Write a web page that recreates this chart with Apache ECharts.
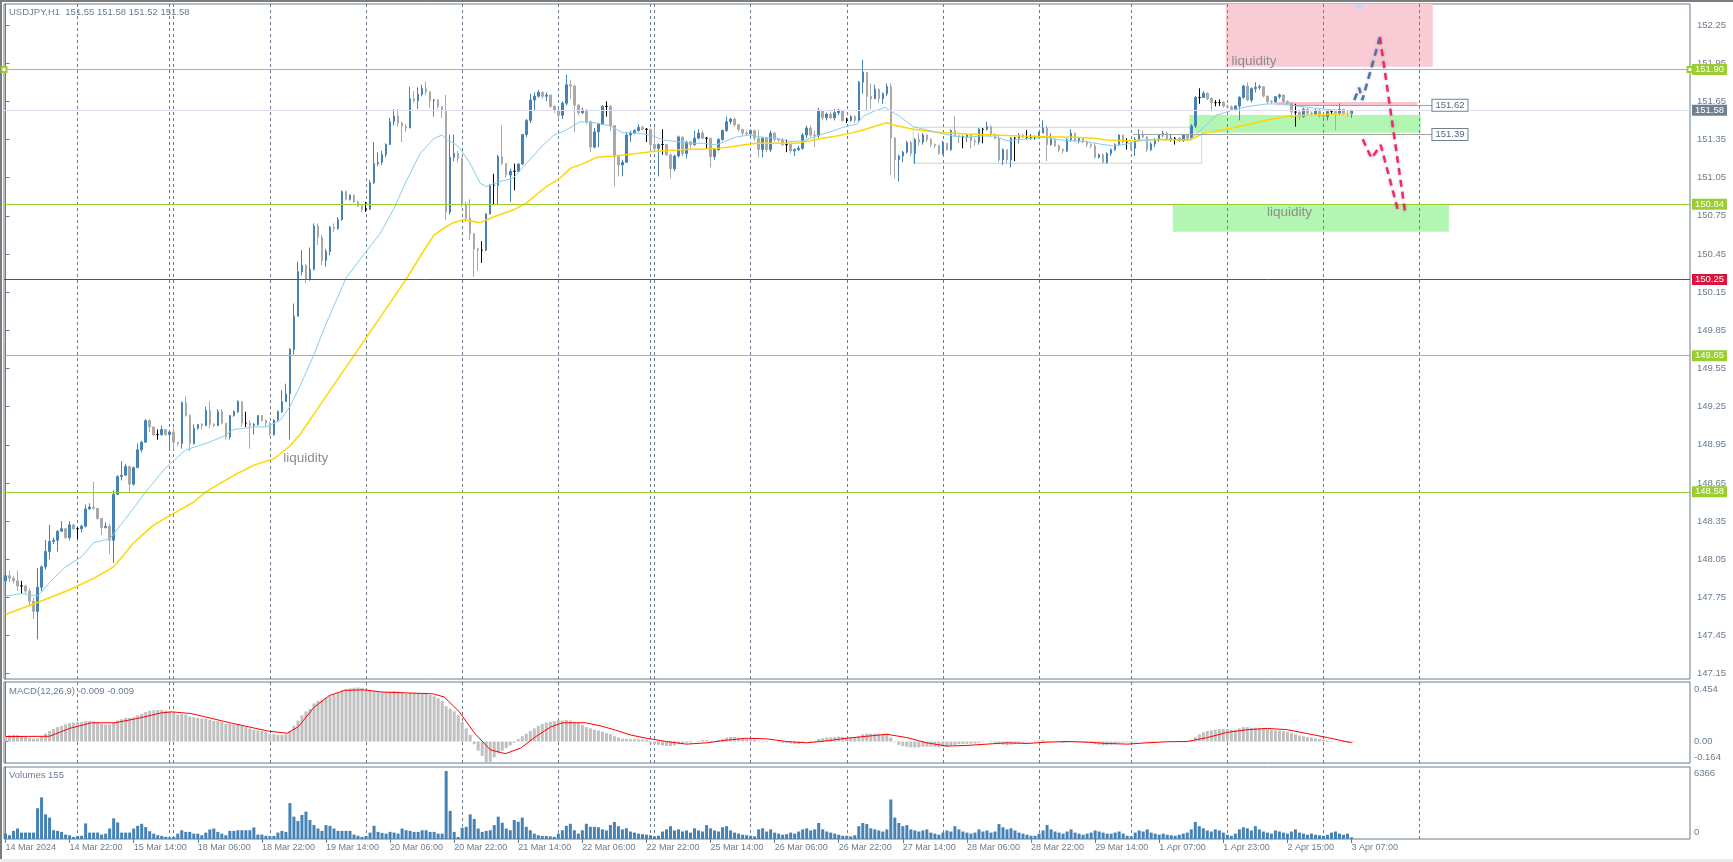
<!DOCTYPE html>
<html>
<head>
<meta charset="utf-8">
<script src="https://cdn.jsdelivr.net/npm/echarts@6/dist/echarts.min.js"></script>
<style>
html,body{margin:0;padding:0;background:#fff;}
#c{width:1733px;height:862px;}
</style>
</head>
<body>
<div id="c"></div>
<script>
// ---------------- DATA ----------------
const SYMBOL_TITLE = 'USDJPY,H1  151.55 151.58 151.52 151.58';
const MACD_TITLE = 'MACD(12,26,9) -0.009 -0.009';
const VOLUME_TITLE = 'Volumes 155';

const OPEN_FIRST = 147.88;
const CLOSE = [
147.92,147.90,147.88,147.84,147.84,147.80,147.72,147.64,147.83,147.99,
148.11,148.19,148.20,148.27,148.29,148.22,148.32,148.29,148.29,148.31,
148.445,148.46,148.45,148.37,148.30,148.31,148.20,148.56,148.70,148.71,
148.78,148.64,148.77,148.91,148.97,149.14,149.09,149.03,149.03,149.07,
149.03,149.05,148.97,148.96,149.28,149.18,148.96,149.08,149.11,149.10,
149.22,149.11,149.10,149.21,149.12,149.01,149.18,149.21,149.29,149.12,
149.12,149.10,149.11,149.18,149.14,149.12,149.03,149.145,149.21,149.29,
149.35,149.70,149.96,150.31,150.36,150.25,150.33,150.67,150.58,150.40,
150.47,150.66,150.65,150.72,150.94,150.88,150.91,150.86,150.83,150.80,
150.80,151.01,151.16,151.17,151.23,151.31,151.49,151.535,151.48,151.455,
151.44,151.67,151.655,151.705,151.75,151.725,151.655,151.66,151.61,151.58,
150.78,151.21,151.24,151.20,150.84,150.73,150.61,150.49,150.48,150.48,
150.765,150.99,150.99,151.215,151.16,151.07,151.10,151.10,151.157,151.39,
151.50,151.66,151.69,151.72,151.69,151.70,151.61,151.58,151.54,151.635,
151.78,151.77,151.62,151.56,151.58,151.49,151.29,151.41,151.47,151.61,
151.61,151.46,151.215,151.15,151.17,151.385,151.40,151.42,151.445,151.43,
151.43,151.31,151.28,151.31,151.31,151.23,151.12,151.22,151.37,151.24,
151.33,151.31,151.36,151.40,151.36,151.36,151.215,151.27,151.35,151.42,
151.49,151.51,151.465,151.43,151.40,151.395,151.42,151.36,151.27,151.36,
151.27,151.40,151.35,151.345,151.31,151.31,151.26,151.27,151.28,151.385,
151.44,151.385,151.38,151.58,151.52,151.55,151.52,151.56,151.58,151.50,
151.50,151.53,151.50,151.80,151.88,151.69,151.67,151.745,151.67,151.71,
151.765,151.36,151.19,151.22,151.25,151.325,151.24,151.35,151.33,151.385,
151.35,151.31,151.30,151.24,151.32,151.27,151.42,151.38,151.37,151.37,
151.39,151.34,151.33,151.43,151.43,151.45,151.39,151.36,151.19,151.27,
151.19,151.36,151.36,151.385,151.37,151.37,151.37,151.37,151.40,151.44,
151.31,151.35,151.30,151.27,151.26,151.35,151.40,151.34,151.36,151.33,
151.31,151.30,151.21,151.23,151.17,151.24,151.27,151.31,151.385,151.33,
151.33,151.28,151.35,151.39,151.37,151.27,151.315,151.35,151.385,151.40,
151.35,151.36,151.36,151.34,151.385,151.36,151.456,151.68,151.68,151.713,
151.673,151.64,151.64,151.64,151.613,151.605,151.587,151.613,151.681,151.77,
151.66,151.75,151.76,151.765,151.692,151.647,151.645,151.686,151.70,151.647,
151.634,151.565,151.565,151.529,151.587,151.556,151.55,151.58,151.535,151.53,
151.569,151.569,151.55,151.587,151.555,151.55,151.58
];
const HIGH = [
147.95,147.96,147.92,147.96,147.88,147.85,147.82,147.75,147.98,148.00,
148.20,148.32,148.22,148.28,148.35,148.29,148.35,148.33,148.30,148.32,
148.48,148.49,148.66,148.45,148.37,148.34,148.33,148.59,148.71,148.82,
148.80,148.78,148.78,148.96,148.98,149.15,149.15,149.09,149.07,149.10,
149.07,149.06,149.08,148.97,149.29,149.33,149.19,149.11,149.11,149.12,
149.25,149.29,149.12,149.23,149.23,149.12,149.18,149.22,149.30,149.29,
149.21,149.14,149.12,149.18,149.18,149.15,149.13,149.15,149.22,149.38,
149.43,149.71,150.06,150.39,150.48,150.37,150.50,150.69,150.69,150.60,
150.49,150.67,150.69,150.74,150.95,150.95,150.92,150.92,150.87,150.84,
150.86,151.03,151.33,151.25,151.26,151.32,151.52,151.59,151.59,151.49,
151.47,151.765,151.73,151.76,151.78,151.805,151.73,151.67,151.67,151.61,
151.70,151.39,151.39,151.26,151.21,150.86,150.88,150.61,150.50,150.55,
150.77,151.00,151.08,151.23,151.46,151.16,151.12,151.16,151.16,151.39,
151.51,151.71,151.72,151.74,151.73,151.72,151.70,151.62,151.59,151.65,
151.86,151.82,151.78,151.63,151.60,151.59,151.50,151.44,151.48,151.62,
151.65,151.62,151.46,151.22,151.19,151.41,151.42,151.43,151.47,151.46,
151.44,151.43,151.45,151.32,151.43,151.30,151.24,151.23,151.38,151.37,
151.34,151.34,151.42,151.43,151.42,151.37,151.36,151.28,151.36,151.43,
151.53,151.52,151.52,151.47,151.43,151.42,151.43,151.42,151.43,151.37,
151.37,151.42,151.41,151.36,151.36,151.35,151.32,151.28,151.30,151.40,
151.46,151.46,151.42,151.60,151.58,151.56,151.57,151.59,151.59,151.58,
151.52,151.54,151.54,151.81,151.975,151.88,151.79,151.78,151.75,151.72,
151.79,151.79,151.37,151.23,151.26,151.34,151.34,151.36,151.40,151.40,
151.39,151.36,151.32,151.31,151.34,151.32,151.43,151.535,151.38,151.38,
151.40,151.39,151.36,151.44,151.44,151.49,151.46,151.40,151.39,151.28,
151.27,151.37,151.37,151.40,151.39,151.425,151.39,151.38,151.41,151.50,
151.46,151.40,151.36,151.31,151.28,151.36,151.43,151.40,151.37,151.36,
151.34,151.32,151.32,151.24,151.24,151.25,151.28,151.32,151.39,151.38,
151.36,151.33,151.37,151.43,151.42,151.38,151.33,151.36,151.39,151.42,
151.41,151.39,151.37,151.37,151.39,151.39,151.47,151.69,151.752,151.73,
151.72,151.68,151.66,151.665,151.65,151.625,151.62,151.62,151.69,151.78,
151.80,151.76,151.80,151.78,151.77,151.69,151.66,151.69,151.71,151.70,
151.66,151.64,151.63,151.57,151.60,151.60,151.57,151.59,151.59,151.545,
151.575,151.58,151.57,151.634,151.59,151.575,151.58
];
const LOW = [
147.85,147.87,147.86,147.80,147.78,147.78,147.68,147.58,147.42,147.80,
147.97,148.05,148.17,148.11,148.27,148.21,148.20,148.28,148.21,148.26,
148.30,148.44,148.44,148.36,148.24,148.29,148.09,148.02,148.56,148.67,
148.72,148.58,148.63,148.77,148.89,148.97,149.05,149.02,148.99,149.02,
149.02,148.91,148.91,148.94,148.92,149.17,148.90,148.95,149.07,149.07,
149.10,149.08,149.09,149.10,149.11,148.99,148.99,149.17,149.20,149.09,
149.09,148.92,149.03,149.10,149.13,149.09,149.02,149.02,149.13,149.20,
149.29,148.99,149.66,149.96,150.28,150.22,150.24,150.32,150.52,150.36,
150.35,150.44,150.62,150.64,150.71,150.87,150.87,150.85,150.82,150.78,
150.78,150.80,151.00,151.14,151.15,151.21,151.31,151.46,151.45,151.33,
151.41,151.44,151.64,151.59,151.69,151.70,151.60,151.53,151.59,151.52,
150.72,150.76,151.18,151.17,150.82,150.70,150.56,150.27,150.32,150.38,
150.47,150.76,150.84,150.84,151.15,151.05,150.86,150.95,151.09,151.15,
151.37,151.48,151.58,151.68,151.67,151.65,151.60,151.56,151.51,151.51,
151.62,151.67,151.41,151.54,151.55,151.47,151.25,151.28,151.29,151.47,
151.53,151.42,150.98,151.06,151.06,151.17,151.33,151.39,151.41,151.42,
151.33,151.27,151.27,151.06,151.23,151.22,151.045,151.10,151.21,151.22,
151.20,151.28,151.30,151.35,151.35,151.28,151.13,151.19,151.26,151.34,
151.41,151.47,151.45,151.41,151.38,151.38,151.37,151.34,151.21,151.21,
151.25,151.25,151.33,151.33,151.30,151.25,151.24,151.22,151.26,151.27,
151.36,151.37,151.29,151.36,151.50,151.50,151.51,151.50,151.54,151.49,
151.48,151.49,151.48,151.49,151.71,151.58,151.59,151.67,151.64,151.63,
151.69,151.07,151.045,151.02,151.17,151.24,151.22,151.16,151.30,151.31,
151.33,151.29,151.28,151.23,151.23,151.26,151.26,151.37,151.32,151.28,
151.33,151.28,151.30,151.31,151.32,151.42,151.37,151.35,151.17,151.15,
151.16,151.13,151.18,151.32,151.36,151.35,151.35,151.35,151.36,151.40,
151.18,151.30,151.29,151.25,151.24,151.25,151.33,151.33,151.32,151.32,
151.29,151.28,151.20,151.20,151.16,151.16,151.22,151.26,151.30,151.32,
151.27,151.27,151.22,151.34,151.36,151.25,151.26,151.29,151.33,151.37,
151.34,151.33,151.31,151.33,151.33,151.35,151.35,151.44,151.63,151.68,
151.66,151.57,151.61,151.613,151.60,151.59,151.58,151.58,151.50,151.67,
151.65,151.64,151.72,151.74,151.68,151.63,151.63,151.64,151.67,151.64,
151.62,151.52,151.451,151.50,151.52,151.54,151.54,151.54,151.52,151.52,
151.50,151.55,151.425,151.54,151.54,151.53,151.52
];
const VOLUME = [
507,350,760,980,600,600,600,600,2880,3900,
2310,2000,820,760,665,410,350,190,280,300,
1457,600,600,600,410,500,980,1930,1550,600,
600,600,980,1235,1425,1110,730,500,350,285,
200,150,200,500,820,665,665,500,500,350,
600,890,980,665,500,350,760,760,820,820,
820,820,1080,410,410,300,285,285,600,760,
665,3360,2090,1680,2250,2565,1775,1300,980,760,
1300,1235,980,760,760,760,760,410,300,200,
285,600,1235,665,570,500,665,600,500,980,
820,760,665,665,820,820,665,665,500,500,
6366,2630,665,190,1050,1140,2310,1870,980,665,
760,820,1300,2090,1520,980,820,1775,1615,2000,
1140,820,500,350,285,285,250,200,500,820,
1235,1425,820,500,820,1425,1140,1140,1100,900,
800,1300,1600,1200,900,1000,700,600,500,450,
400,350,250,300,700,900,1200,800,900,700,
800,600,1000,800,700,1300,1000,800,700,1100,
1200,800,600,500,400,350,300,250,900,1000,
700,900,600,500,400,450,600,500,700,900,
1000,800,900,1500,900,700,600,500,400,300,
300,250,350,1200,1500,1400,1000,900,800,700,
900,3700,2000,1500,1200,1300,900,800,700,800,
900,600,500,400,600,800,700,1200,900,700,
600,500,600,900,700,800,600,700,1400,1100,
900,1000,800,600,500,400,300,300,500,800,
1300,900,700,600,500,700,900,600,500,400,
500,600,800,700,600,500,500,600,700,500,
300,250,600,800,700,900,600,500,400,500,
400,350,300,400,500,600,900,1600,1200,1000,
800,700,900,800,600,400,300,500,900,1100,
1000,800,1200,900,700,600,500,800,700,600,
500,700,900,600,500,400,500,400,350,300,
400,600,700,500,400,500,155
];
const MACD_MAIN = [
0.045,0.048,0.05,0.048,0.04,0.033,0.027,0.022,0.024,0.04,
0.06,0.08,0.095,0.11,0.12,0.13,0.14,0.145,0.148,0.15,
0.155,0.155,0.152,0.145,0.135,0.13,0.13,0.145,0.16,0.17,
0.18,0.18,0.185,0.2,0.21,0.225,0.235,0.238,0.24,0.24,
0.235,0.23,0.22,0.205,0.21,0.205,0.19,0.185,0.18,0.175,
0.175,0.165,0.158,0.155,0.148,0.135,0.135,0.13,0.13,0.12,
0.11,0.1,0.09,0.085,0.08,0.07,0.06,0.055,0.05,0.05,
0.055,0.08,0.12,0.16,0.2,0.23,0.25,0.29,0.31,0.32,
0.335,0.35,0.36,0.37,0.39,0.4,0.405,0.41,0.412,0.41,
0.4,0.39,0.385,0.38,0.375,0.375,0.38,0.385,0.38,0.375,
0.365,0.37,0.37,0.37,0.37,0.365,0.355,0.345,0.33,0.31,
0.27,0.25,0.23,0.2,0.15,0.1,0.05,-0.02,-0.07,-0.11,
-0.16,-0.155,-0.12,-0.09,-0.07,-0.05,-0.03,-0.01,0.02,0.04,
0.06,0.08,0.1,0.12,0.135,0.145,0.15,0.155,0.16,0.16,
0.165,0.16,0.15,0.14,0.125,0.11,0.1,0.09,0.085,0.075,
0.065,0.055,0.04,0.03,0.022,0.02,0.018,0.017,0.016,0.015,
0.013,-0.01,-0.02,-0.025,-0.03,-0.035,-0.035,-0.03,-0.02,-0.015,
-0.01,-0.008,0,0.005,0.01,0.01,0.005,0.005,0.01,0.02,
0.03,0.035,0.035,0.03,0.025,0.02,0.018,0.015,0.005,-0.005,
-0.005,0,0,-0.005,-0.01,-0.012,-0.015,-0.02,-0.02,-0.01,
0,0.005,0.005,0.02,0.025,0.03,0.032,0.035,0.038,0.035,
0.032,0.03,0.03,0.04,0.055,0.06,0.06,0.06,0.06,0.058,
0.06,0.03,-0.005,-0.025,-0.035,-0.04,-0.045,-0.045,-0.045,-0.04,
-0.04,-0.04,-0.04,-0.045,-0.04,-0.04,-0.03,-0.025,-0.02,-0.02,
-0.018,-0.016,-0.016,-0.01,-0.005,0,-0.005,-0.01,-0.02,-0.025,
-0.03,-0.025,-0.02,-0.015,-0.01,-0.005,0,0.005,0.008,0.012,
0.005,0.003,0,-0.005,-0.01,-0.008,-0.005,-0.005,-0.005,-0.007,
-0.01,-0.012,-0.02,-0.025,-0.03,-0.028,-0.025,-0.02,-0.01,-0.008,
-0.006,-0.008,-0.006,0,0.002,-0.004,-0.005,-0.002,0,0.002,
0.002,0.002,0.002,0.002,0.004,0.005,0.012,0.035,0.055,0.07,
0.08,0.085,0.09,0.095,0.095,0.095,0.09,0.09,0.1,0.11,
0.11,0.105,0.105,0.105,0.1,0.095,0.09,0.085,0.085,0.08,
0.075,0.065,0.055,0.045,0.04,0.035,0.03,0.025,0.018,0.012,
0.008,0.004,0,-0.004,-0.007,-0.008,-0.009
];
// [bar, value] readings of the signal line
const MACD_SIGNAL = [[0,0.038],[11,0.04],[16,0.1],[21.5,0.143],[27.3,0.143],[33,0.176],[38.8,0.218],[41.6,0.226],[46.4,0.213],[56,0.143],[65.5,0.08],[70.3,0.063],[73.1,0.113],[77,0.26],[80.8,0.35],[84.6,0.39],[89.4,0.394],[94.2,0.377],[106.6,0.364],[109.5,0.34],[113.3,0.226],[117.1,0.063],[121,-0.063],[124.8,-0.093],[128.6,-0.05],[132.4,0.038],[136.2,0.113],[139.1,0.143],[144.8,0.143],[148.4,0.12],[152,0.09],[156,0.05],[160,0.025],[165,0.0],[170,-0.02],[175,-0.01],[180,0.01],[185,0.025],[190,0.02],[195,0.0],[200,-0.01],[205,0.005],[210,0.025],[215,0.04],[220,0.055],[225,0.03],[230,-0.01],[235,-0.035],[240,-0.03],[245,-0.02],[250,-0.01],[255,-0.015],[260,-0.005],[265,0.0],[270,-0.005],[275,-0.015],[280,-0.02],[285,-0.01],[290,-0.002],[295,0.0],[300,0.03],[305,0.07],[310,0.09],[315,0.1],[320,0.09],[325,0.06],[330,0.03],[336,-0.009]];
// moving averages [bar, value]
const MA_FAST = [[0,147.76],[4,147.78],[8,147.76],[12,147.90],[15,147.99],[19,148.07],[22,148.18],[26,148.21],[30,148.37],[35,148.58],[40,148.77],[45,148.91],[50,148.96],[54,149.01],[57,149.07],[62,149.09],[65,149.09],[68.5,149.14],[71,149.25],[73.5,149.41],[77,149.66],[80,149.90],[85,150.26],[90,150.47],[93.5,150.61],[97,150.81],[100,151.02],[103.5,151.24],[107,151.36],[109,151.385],[110,151.35],[112,151.32],[113.5,151.28],[116,151.16],[118.5,151.005],[120,150.98],[123.5,151.02],[126.7,151.045],[130,151.16],[133.4,151.28],[136.7,151.38],[140,151.425],[143.4,151.49],[147.6,151.48],[151,151.456],[154,151.404],[157.6,151.40],[161,151.385],[164.2,151.346],[167.5,151.333],[171,151.32],[174.2,151.32],[177.5,151.307],[179.2,151.33],[182.5,151.37],[185.8,151.385],[189.2,151.367],[192.5,151.36],[195.8,151.333],[199.2,151.34],[202.5,151.377],[205.8,151.41],[209.2,151.446],[212.5,151.47],[214,151.53],[216.6,151.569],[219.6,151.603],[220.6,151.58],[223.3,151.53],[226.6,151.45],[230,151.425],[233.3,151.40],[236.6,151.377],[240,151.367],[243.3,151.377],[246.6,151.377],[250,151.34],[253.2,151.35],[256.6,151.36],[260,151.367],[263.2,151.346],[266.6,151.34],[270,151.333],[273.2,151.314],[276.6,151.30],[280,151.314],[283.2,151.34],[288.2,151.35],[295.7,151.35],[298.2,151.42],[302.4,151.542],[306.5,151.582],[310.7,151.613],[314.9,151.629],[319,151.629],[322.4,151.613],[327.3,151.595],[331.5,151.582],[336,151.576]];
const MA_SLOW = [[0,147.615],[8,147.71],[16,147.81],[22,147.90],[27,147.99],[32,148.18],[37,148.32],[42,148.41],[47,148.50],[50,148.58],[57,148.71],[62,148.79],[67,148.84],[71,148.94],[73.5,149.03],[80,149.33],[85,149.56],[90,149.79],[95,150.02],[100,150.25],[103.5,150.43],[107,150.60],[109.3,150.65],[111.8,150.696],[114.3,150.72],[118.4,150.696],[121.8,150.74],[126.7,150.795],[130,150.85],[135,150.98],[138.4,151.045],[141,151.123],[144.2,151.16],[147.6,151.21],[151.7,151.22],[154.2,151.228],[157.6,151.24],[161,151.254],[164.2,151.262],[167.5,151.267],[171,151.273],[174.2,151.273],[177.5,151.28],[180.9,151.29],[184,151.307],[187.5,151.32],[194.2,151.32],[197.5,151.32],[200.8,151.34],[204,151.36],[207.5,151.377],[211,151.40],[214.1,151.425],[216.6,151.45],[220,151.482],[221.6,151.464],[226.6,151.43],[233.3,151.404],[240,151.393],[246.6,151.385],[253.2,151.377],[260,151.372],[266.6,151.367],[271.6,151.36],[275,151.346],[280,151.34],[285,151.346],[288.2,151.35],[295.7,151.346],[299,151.398],[305.7,151.437],[310.7,151.472],[314.9,151.503],[320.7,151.535],[327,151.542],[336,151.555]];

// axis labels
const X_LABELS = ['14 Mar 2024','14 Mar 22:00','15 Mar 14:00','18 Mar 06:00','18 Mar 22:00','19 Mar 14:00','20 Mar 06:00','20 Mar 22:00','21 Mar 14:00','22 Mar 06:00','22 Mar 22:00','25 Mar 14:00','26 Mar 06:00','26 Mar 22:00','27 Mar 14:00','28 Mar 06:00','28 Mar 22:00','29 Mar 14:00','1 Apr 07:00','1 Apr 23:00','2 Apr 15:00','3 Apr 07:00'];
const X_LABEL_STEP = 16;
const PRICE_TICKS = [147.15,147.45,147.75,148.05,148.35,148.65,148.95,149.25,149.55,149.85,150.15,150.45,150.75,151.05,151.35,151.65,151.95,152.25];
const MACD_TICKS = [0.454, 0, -0.164];
const MACD_TICK_TEXT = ['0.454','0.00','-0.164'];
const VOL_TICKS = [6366, 0];
const SEPARATOR_BARS = [18,41,42,66,90,114,138,161,162,186,210,234,258,281,305,329,353];

// annotation objects (bar index, price)
const GREEN_LEVELS = [151.90, 150.84, 149.65, 148.58];
const RED_LEVEL = 150.25;
const BID_PRICE = 151.58;
const PRICE_LABEL_LINES = [[320.7, 356.2, 151.62], [281.5, 356.2, 151.39]];
const PINK_ZONE = [304.6, 356.3, 151.922, 152.415];
const GREEN_ZONES = [[291.4, 360.3, 150.625, 150.84], [295.5, 353.3, 151.403, 151.542]];
const PINK_STRIP = [317.3, 352.4, 151.62, 151.645];
const RANGE_BOX = [226.6, 298.6, 151.163, 151.446];
const LIQ_TEXTS = [[305.9, 151.962, 'liquidity'], [314.8, 150.775, 'liquidity'], [69.2, 148.84, 'liquidity']];
const BLUE_PATH = [[336.7, 151.66], [337.9, 151.757], [338.7, 151.66], [343.1, 152.153]];
const RED_PATH_1 = [[343.1, 152.153], [349.4, 150.775]];
const RED_PATH_2 = [[338.8, 151.351], [341.0, 151.202], [343.3, 151.306], [347.7, 150.782]];
const SHIFT_MARK = [337.9, 152.39];

// ---------------- CHART ----------------
const FONT = "'Liberation Sans', Arial, sans-serif";
const AX = '#6b7b8c';
const TXT = '#6a7c8e';
const GREEN = '#9acd32';
const XMIN = -0.374, XMAX = 420.496;
const PMIN = 147.1085, PMAX = 152.415;

const candleData = CLOSE.map((c, i) => {
  const o = i === 0 ? OPEN_FIRST : CLOSE[i - 1];
  return [i, o, c, Math.min(LOW[i], o, c), Math.max(HIGH[i], o, c)];
});
const volData = VOLUME.map((v, i) => [i, v]);
const macdData = MACD_MAIN.map((v, i) => [i, v]);
const xLabelBars = X_LABELS.map((_, k) => k * X_LABEL_STEP);

function sepLines() {
  return {
    silent: true, symbol: ['none', 'none'], z: 2,
    label: {show: false},
    lineStyle: {color: '#6c7a89', type: [3, 3], width: 1},
    data: SEPARATOR_BARS.map(b => ({xAxis: b}))
  };
}
function host(gi, y, extra) {
  return Object.assign({
    type: 'line', xAxisIndex: gi, yAxisIndex: gi, data: [[0, y]],
    symbol: 'none', lineStyle: {opacity: 0}, silent: true
  }, extra);
}
function tagLabel(bg, txt) {
  return {
    show: true, position: 'end', distance: 2,
    backgroundColor: bg, color: '#fff', padding: [1, 3, 0, 3],
    fontFamily: FONT, fontSize: 9.5, lineHeight: 10,
    formatter: () => txt
  };
}
const hiddenX = gi => ({
  type: 'value', gridIndex: gi, min: XMIN, max: XMAX, show: false
});

const option = {
  animation: false,
  backgroundColor: '#ffffff',
  textStyle: {fontFamily: FONT},
  grid: [
    {left: 4, top: 4, width: 1686, height: 675, show: true, borderColor: AX, borderWidth: 1, backgroundColor: '#fff'},
    {left: 4, top: 682, width: 1686, height: 81, show: true, borderColor: AX, borderWidth: 1, backgroundColor: '#fff'},
    {left: 4, top: 767, width: 1686, height: 72, show: true, borderColor: AX, borderWidth: 1, backgroundColor: '#fff'}
  ],
  xAxis: [
    hiddenX(0), hiddenX(1),
    {
      type: 'value', gridIndex: 2, min: XMIN, max: XMAX,
      axisLine: {show: false}, splitLine: {show: false},
      axisTick: {show: true, customValues: xLabelBars, length: 4, lineStyle: {color: AX}},
      axisLabel: {
        customValues: xLabelBars, align: 'left', margin: 4,
        color: TXT, fontSize: 9, fontFamily: FONT,
        formatter: v => X_LABELS[Math.round(v / X_LABEL_STEP)]
      }
    }
  ],
  yAxis: [
    {
      type: 'value', gridIndex: 0, position: 'right', min: PMIN, max: PMAX,
      axisLine: {show: true, lineStyle: {color: AX}}, splitLine: {show: false},
      axisTick: {show: true, customValues: PRICE_TICKS, length: 4, lineStyle: {color: AX}},
      axisLabel: {customValues: PRICE_TICKS, margin: 7, color: TXT, fontSize: 9.5, fontFamily: FONT,
        formatter: v => v.toFixed(2)}
    },
    {
      type: 'value', gridIndex: 1, position: 'right', min: -0.164, max: 0.454,
      axisLine: {show: true, lineStyle: {color: AX}}, splitLine: {show: false},
      axisTick: {show: true, customValues: [0], length: 3, lineStyle: {color: AX}},
      axisLabel: {
        customValues: MACD_TICKS, margin: 4, color: TXT, fontSize: 9.5, fontFamily: FONT,
        formatter: v => {
          const k = MACD_TICKS.indexOf(v);
          return k === 0 ? '{t|' + MACD_TICK_TEXT[k] + '}' : k === 2 ? '{b|' + MACD_TICK_TEXT[k] + '}' : MACD_TICK_TEXT[k];
        },
        rich: {t: {padding: [14, 0, 0, 0], color: TXT, fontSize: 9.5}, b: {padding: [0, 0, 11, 0], color: TXT, fontSize: 9.5}}
      }
    },
    {
      type: 'value', gridIndex: 2, position: 'right', min: 0, max: 6740,
      axisLine: {show: true, lineStyle: {color: AX}}, splitLine: {show: false},
      axisTick: {show: false},
      axisLabel: {
        customValues: VOL_TICKS, margin: 4, color: TXT, fontSize: 9.5, fontFamily: FONT,
        formatter: v => v === 0 ? '{b|0}' : '{t|' + v + '}',
        rich: {t: {padding: [4, 0, 0, 0], color: TXT, fontSize: 9.5}, b: {padding: [0, 0, 13, 0], color: TXT, fontSize: 9.5}}
      }
    }
  ],
  series: [
    // separators & zones in price pane
    host(0, CLOSE[0], {
      z: 1,
      markLine: sepLines(),
      markArea: {
        silent: true, z: 1,
        data: [
          [{coord: [PINK_ZONE[0], PINK_ZONE[3]], itemStyle: {color: '#f9cbd4'}}, {coord: [PINK_ZONE[1], PINK_ZONE[2]]}],
          ...GREEN_ZONES.map(g => [{coord: [g[0], g[3]], itemStyle: {color: '#b3f6b3'}}, {coord: [g[1], g[2]]}]),
          [{coord: [PINK_STRIP[0], PINK_STRIP[3]], itemStyle: {color: '#f7c4cf'}}, {coord: [PINK_STRIP[1], PINK_STRIP[2]]}],
          [{coord: [RANGE_BOX[0], RANGE_BOX[3]], itemStyle: {color: 'rgba(0,0,0,0)', borderColor: '#b3ecb3', borderWidth: 1}}, {coord: [RANGE_BOX[1], RANGE_BOX[2]]}]
        ]
      }
    }),
    {
      type: 'candlestick', xAxisIndex: 0, yAxisIndex: 0, z: 3,
      data: candleData, encode: {x: 0, y: [1, 2, 3, 4]},
      barWidth: 2,
      itemStyle: {color: '#4682b4', color0: '#a9a9a9', borderColor: '#4682b4', borderColor0: '#a9a9a9', borderColorDoji: '#000000', borderWidth: 1}
    },
    {type: 'line', xAxisIndex: 0, yAxisIndex: 0, z: 4, data: MA_SLOW, symbol: 'none', silent: true,
      lineStyle: {color: '#ffd700', width: 1.5}},
    {type: 'line', xAxisIndex: 0, yAxisIndex: 0, z: 4, data: MA_FAST, symbol: 'none', silent: true,
      lineStyle: {color: '#87ceeb', width: 1}},
    // levels
    host(0, CLOSE[0], {
      z: 5,
      markLine: {
        silent: true, symbol: ['none', 'none'], z: 5,
        data: [
          ...GREEN_LEVELS.slice(1).map(p => ({yAxis: p, lineStyle: {color: GREEN, width: 1, type: 'solid'}, label: tagLabel(GREEN, p.toFixed(2))})),
          {yAxis: RED_LEVEL, lineStyle: {color: '#dc143c', width: 1, type: 'solid'}, label: tagLabel('#dc143c', RED_LEVEL.toFixed(2))},
          {yAxis: BID_PRICE, lineStyle: {color: '#dedef2', width: 1, type: 'solid'}, label: tagLabel('#708090', BID_PRICE.toFixed(2))},
          ...PRICE_LABEL_LINES.map(l => [
            {coord: [l[0], l[2]], lineStyle: {color: '#a3a3a3', width: 1, type: 'solid'},
              label: {show: true, position: 'end', distance: 0, backgroundColor: '#fff', borderColor: '#708090', borderWidth: 1,
                color: '#55677a', padding: [1, 3, 0, 3], fontSize: 9.5, lineHeight: 10, fontFamily: FONT, formatter: () => l[2].toFixed(2)}},
            {coord: [l[1], l[2]]}
          ])
        ]
      }
    }),
    host(0, CLOSE[0], {
      z: 5,
      markLine: {
        silent: true, symbol: ['emptyRect', 'emptyRect'], symbolSize: 5, z: 5,
        data: [{yAxis: GREEN_LEVELS[0], lineStyle: {color: GREEN, width: 1, type: 'solid'}, label: tagLabel(GREEN, GREEN_LEVELS[0].toFixed(2))}]
      },
      markPoint: {
        silent: true, z: 5,
        data: [{coord: SHIFT_MARK, symbol: 'triangle', symbolRotate: 180, symbolSize: [11, 6], itemStyle: {color: '#cdd3f4'}, label: {show: false}}]
      }
    }),
    // texts
    host(0, CLOSE[0], {
      z: 6,
      markPoint: {
        silent: true, z: 6,
        data: LIQ_TEXTS.map(t => ({
          coord: [t[0], t[1]], symbol: 'circle', symbolSize: 1,
          itemStyle: {color: 'rgba(0,0,0,0)'},
          label: {show: true, position: 'right', distance: 0, color: '#8c8c8c', fontSize: 13.5, fontFamily: FONT, formatter: () => t[2]}
        }))
      }
    }),
    // drawn arrows
    {type: 'line', xAxisIndex: 0, yAxisIndex: 0, z: 7, data: BLUE_PATH, symbol: 'none', silent: true,
      lineStyle: {color: '#4a74ae', width: 2.5, type: [7, 5], shadowColor: 'rgba(0,0,0,0.25)', shadowBlur: 3}},
    {type: 'line', xAxisIndex: 0, yAxisIndex: 0, z: 7, data: RED_PATH_1, symbol: 'none', silent: true,
      lineStyle: {color: '#f4276a', width: 2.5, type: [7, 5], shadowColor: 'rgba(0,0,0,0.25)', shadowBlur: 3}},
    {type: 'line', xAxisIndex: 0, yAxisIndex: 0, z: 7, data: RED_PATH_2, symbol: 'none', silent: true,
      lineStyle: {color: '#f4276a', width: 2.5, type: [7, 5], shadowColor: 'rgba(0,0,0,0.25)', shadowBlur: 3}},
    // MACD
    host(1, 0, {z: 1, markLine: sepLines()}),
    {type: 'bar', xAxisIndex: 1, yAxisIndex: 1, z: 3, data: macdData, barWidth: 3, silent: true,
      itemStyle: {color: '#c0c0c0'}},
    {type: 'line', xAxisIndex: 1, yAxisIndex: 1, z: 4, data: MACD_SIGNAL, symbol: 'none', silent: true,
      lineStyle: {color: '#ff0000', width: 1}},
    // Volume
    host(2, 0, {z: 1, markLine: sepLines()}),
    {type: 'bar', xAxisIndex: 2, yAxisIndex: 2, z: 3, data: volData, barWidth: 3, silent: true,
      itemStyle: {color: '#4682b4'}}
  ],
  graphic: [
    {type: 'rect', left: 0, top: 0, shape: {width: 1733, height: 2}, style: {fill: '#7d7d7d'}, silent: true},
    {type: 'rect', left: 0, top: 0, shape: {width: 2, height: 862}, style: {fill: '#7d7d7d'}, silent: true},
    {type: 'rect', left: 0, top: 859, shape: {width: 1733, height: 3}, style: {fill: '#ececec'}, silent: true},
    {type: 'text', left: 9, top: 7, z: 10, style: {text: SYMBOL_TITLE, fill: TXT, font: '9.5px ' + FONT}},
    {type: 'text', left: 9, top: 686, z: 10, style: {text: MACD_TITLE, fill: TXT, font: '9.5px ' + FONT}},
    {type: 'text', left: 9, top: 770, z: 10, style: {text: VOLUME_TITLE, fill: TXT, font: '9.5px ' + FONT}}
  ]
};

const chart = echarts.init(document.getElementById('c'), null, {renderer: 'canvas', width: 1733, height: 862});
chart.setOption(option);
</script>
</body>
</html>
